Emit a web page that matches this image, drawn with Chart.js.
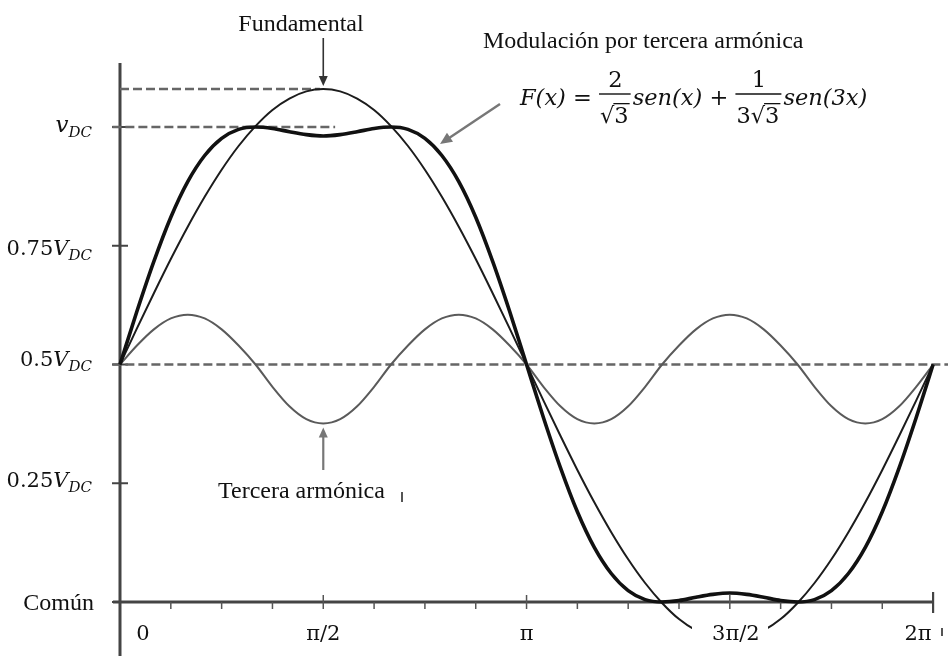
<!doctype html>
<html lang="es">
<head>
<meta charset="utf-8">
<title>Modulación por tercera armónica</title>
<script src="https://cdn.jsdelivr.net/npm/chart.js"></script>
<style>
  html, body { margin: 0; padding: 0; background: #fff; }
  #wrap { width: 948px; height: 656px; position: relative; }
</style>
</head>
<body>
<div id="wrap"><canvas id="chart"></canvas></div>
<script>
// x runs in steps of pi/24 : 0 .. 48  ->  0 .. 2pi
const xSteps = [0,1,2,3,4,5,6,7,8,9,10,11,12,13,14,15,16,17,18,19,20,21,22,23,24,
                25,26,27,28,29,30,31,32,33,34,35,36,37,38,39,40,41,42,43,44,45,46,47,48];

// values in units of V_DC
const modulated = [0.5,0.612,0.717,0.810,0.885,0.940,0.976,0.995,1.000,0.997,0.990,0.984,0.981,
                   0.984,0.990,0.997,1.000,0.995,0.976,0.940,0.885,0.810,0.717,0.612,0.5,
                   0.388,0.283,0.190,0.115,0.060,0.024,0.005,0.000,0.003,0.010,0.016,0.019,
                   0.016,0.010,0.003,0.000,0.005,0.024,0.060,0.115,0.190,0.283,0.388,0.5];
const fundamental = [0.5,0.576,0.650,0.722,0.790,0.853,0.910,0.960,1.002,1.036,1.060,1.075,1.080,
                     1.075,1.060,1.036,1.002,0.960,0.910,0.853,0.790,0.722,0.650,0.576,0.5,
                     0.424,0.350,0.278,0.210,0.147,0.090,0.040,-0.002,-0.036,-0.060,-0.075,-0.080,
                     -0.075,-0.060,-0.036,-0.002,0.040,0.090,0.147,0.210,0.278,0.350,0.424,0.5];
const thirdHarmonic = [0.5,0.540,0.574,0.597,0.605,0.597,0.574,0.540,0.5,0.453,0.412,0.385,0.376,
                       0.385,0.412,0.453,0.5,0.540,0.574,0.597,0.605,0.597,0.574,0.540,0.5,
                       0.453,0.412,0.385,0.376,0.385,0.412,0.453,0.5,0.540,0.574,0.597,0.605,
                       0.597,0.574,0.540,0.5,0.453,0.412,0.385,0.376,0.385,0.412,0.453,0.5];

const fundPeak = 1.08;

// dashed reference levels: [xFrom, xTo, level]
const peakLine = [[0, 11.8], fundPeak];
const vdcLine = [[-0.45, 12.7], 1.0];
const midLine = [[-0.45, 49], 0.5];

const yTickValues = [0, 0.25, 0.5, 0.75, 1.0];
const yTickLabels = ['Común', '0.25V_DC', '0.5V_DC', '0.75V_DC', 'v_DC'];
const yLabelNudge = [8, 4, 1, 9, 5];

const xTickValues = [0, 12, 24, 36, 48];
const xTickLabels = ['0', 'π/2', 'π', '3π/2', '2π'];
const xLabelNudge = [23, 0, 0, 6, -15];
const minorStep = 3;

const serif = '"Liberation Serif", "Times New Roman", serif';
const math = '"DejaVu Serif", serif';

function pts(ys) { return xSteps.map((x, i) => ({ x: x, y: ys[i] })); }
function level(l) { return [{ x: l[0][0], y: l[1] }, { x: l[0][1], y: l[1] }]; }

function arrow(ctx, x1, y1, x2, y2, color, w, head) {
  const a = Math.atan2(y2 - y1, x2 - x1);
  ctx.save();
  ctx.strokeStyle = color; ctx.fillStyle = color; ctx.lineWidth = w;
  ctx.beginPath();
  ctx.moveTo(x1, y1);
  ctx.lineTo(x2 - Math.cos(a) * head * 0.8, y2 - Math.sin(a) * head * 0.8);
  ctx.stroke();
  ctx.beginPath();
  ctx.moveTo(x2, y2);
  ctx.lineTo(x2 - head * Math.cos(a) + head * 0.45 * Math.sin(a), y2 - head * Math.sin(a) - head * 0.45 * Math.cos(a));
  ctx.lineTo(x2 - head * Math.cos(a) - head * 0.45 * Math.sin(a), y2 - head * Math.sin(a) + head * 0.45 * Math.cos(a));
  ctx.closePath();
  ctx.fill();
  ctx.restore();
}

// label like "0.75V_DC": number upright, variable italic, subscript italic
function yLabel(ctx, s, right, base) {
  if (s.indexOf('_') < 0) {
    ctx.font = '24px ' + serif;
    ctx.textAlign = 'right';
    ctx.fillText(s, right + 2, base);
    return;
  }
  const main = s.split('_')[0], sub = s.split('_')[1];
  const num = main.match(/^[\d.]*/)[0];
  const v = main.slice(num.length);
  const parts = [
    { t: num, f: '21px ' + math, dy: 0 },
    { t: v, f: 'italic ' + (num ? 21 : 23) + 'px ' + math, dy: 0 },
    { t: sub, f: 'italic 15px ' + math, dy: 5 }
  ];
  let w = 0;
  parts.forEach(p => { ctx.font = p.f; p.w = ctx.measureText(p.t).width; w += p.w; });
  let x = right - w;
  ctx.textAlign = 'left';
  parts.forEach(p => { ctx.font = p.f; ctx.fillText(p.t, x, base + p.dy); x += p.w; });
}

function radical(ctx, pre, rad, x, base, size) {
  // draws pre + sqrt(rad), returns width
  ctx.font = size + 'px ' + math;
  const wp = ctx.measureText(pre).width;
  const ws = ctx.measureText('√').width;
  const wr = ctx.measureText(rad).width;
  ctx.fillText(pre, x, base);
  ctx.fillText('√', x + wp, base);
  ctx.fillText(rad, x + wp + ws, base);
  ctx.save();
  ctx.lineWidth = 1.3;
  ctx.beginPath();
  const top = base - size * 0.86;
  ctx.moveTo(x + wp + ws - 1, top);
  ctx.lineTo(x + wp + ws + wr + 1, top);
  ctx.stroke();
  ctx.restore();
  return wp + ws + wr;
}

function fraction(ctx, num, pre, rad, x, size) {
  ctx.font = size + 'px ' + math;
  const wd = ctx.measureText(pre + '√' + rad).width + 2;
  const wn = ctx.measureText(num).width;
  ctx.fillText(num, x + 1 + (wd - wn) / 2, 87);
  radical(ctx, pre, rad, x + 1, 123, size);
  ctx.save();
  ctx.lineWidth = 1.4;
  ctx.beginPath();
  ctx.moveTo(x, 94); ctx.lineTo(x + wd + 1, 94);
  ctx.stroke();
  ctx.restore();
  return wd + 3;
}

function formula(ctx, x0) {
  const size = 22.5;
  const base = 105;
  let x = x0;
  ctx.textAlign = 'left';
  ctx.fillStyle = '#111'; ctx.strokeStyle = '#111';
  const seg = (t, it) => {
    ctx.font = (it ? 'italic ' : '') + size + 'px ' + math;
    ctx.fillText(t, x, base);
    x += ctx.measureText(t).width;
  };
  seg('F(x)', true);
  seg(' = ', false);
  x += fraction(ctx, '2', '', '3', x, size);
  seg('sen(x)', true);
  seg(' + ', false);
  x += fraction(ctx, '1', '3', '3', x, size);
  seg('sen(3x)', true);
}

const decor = {
  id: 'decor',
  beforeDatasetsDraw(chart) {
    const ctx = chart.ctx, xs = chart.scales.x, ys = chart.scales.y;
    const x0 = xs.getPixelForValue(0), y0 = ys.getPixelForValue(0);
    const xEnd = xs.getPixelForValue(48);
    ctx.save();
    ctx.strokeStyle = '#444';
    ctx.lineWidth = 3;
    ctx.beginPath();
    ctx.moveTo(x0, 63); ctx.lineTo(x0, chart.height);
    ctx.moveTo(x0 - 7, y0); ctx.lineTo(xEnd, y0);
    ctx.stroke();
    // end tick at 2pi
    ctx.lineWidth = 2.2;
    ctx.beginPath();
    ctx.moveTo(xEnd, y0 - 10); ctx.lineTo(xEnd, y0 + 11);
    ctx.stroke();
    // x ticks
    ctx.lineWidth = 1.5;
    ctx.strokeStyle = '#555';
    for (let k = minorStep; k < 48; k += minorStep) {
      const px = xs.getPixelForValue(k);
      ctx.beginPath();
      if (k % 12 === 0) { ctx.moveTo(px, y0 - 7); ctx.lineTo(px, y0 + 7); }
      else { ctx.moveTo(px, y0); ctx.lineTo(px, y0 + 7); }
      ctx.stroke();
    }
    // y ticks
    ctx.lineWidth = 2;
    ctx.strokeStyle = '#444';
    yTickValues.forEach(v => {
      const py = ys.getPixelForValue(v);
      ctx.beginPath();
      ctx.moveTo(x0 - 8, py); ctx.lineTo(x0 + 8, py);
      ctx.stroke();
    });
    ctx.restore();
  },
  afterDatasetsDraw(chart) {
    const ctx = chart.ctx, xs = chart.scales.x, ys = chart.scales.y;
    ctx.save();
    // white box behind the 3pi/2 label
    ctx.fillStyle = '#fff';
    ctx.fillRect(692, 616, 76, 40);

    ctx.fillStyle = '#111';
    ctx.textBaseline = 'alphabetic';
    // y labels
    yTickValues.forEach((v, i) => {
      yLabel(ctx, yTickLabels[i], 92, ys.getPixelForValue(v) + yLabelNudge[i]);
    });
    // x labels
    ctx.font = '21px ' + math;
    ctx.textAlign = 'center';
    xTickValues.forEach((v, i) => {
      ctx.fillText(xTickLabels[i], xs.getPixelForValue(v) + xLabelNudge[i], 640);
    });

    // annotations
    ctx.font = '24px ' + serif;
    ctx.textAlign = 'center';
    ctx.fillText('Fundamental', 301, 31);
    arrow(ctx, xs.getPixelForValue(12), 38, xs.getPixelForValue(12), ys.getPixelForValue(fundPeak) - 3, '#333', 1.6, 10);

    ctx.textAlign = 'left';
    ctx.fillText('Modulación por tercera armónica', 483, 48);
    formula(ctx, 520);
    arrow(ctx, 500, 104, 440, 144, '#777', 2.4, 12);

    ctx.fillStyle = '#111';
    ctx.font = '24px ' + serif;
    ctx.textAlign = 'left';
    ctx.fillText('Tercera armónica', 218, 498);
    arrow(ctx, xs.getPixelForValue(12), 470, xs.getPixelForValue(12), ys.getPixelForValue(thirdHarmonic[12]) + 4, '#777', 2.2, 10);

    // small stray marks in the scan
    ctx.strokeStyle = '#555'; ctx.lineWidth = 2;
    ctx.beginPath();
    ctx.moveTo(402, 492); ctx.lineTo(402, 502);
    ctx.moveTo(942, 628); ctx.lineTo(942, 636);
    ctx.stroke();
    ctx.restore();
  }
};

const dashStyle = { borderColor: '#666', borderWidth: 2.5, borderDash: [9, 4], pointRadius: 0, fill: false, tension: 0 };

new Chart(document.getElementById('chart'), {
  type: 'line',
  data: {
    datasets: [
      { label: 'Modulación por tercera armónica', data: pts(modulated), borderColor: '#111', borderWidth: 3.6,
        pointRadius: 0, cubicInterpolationMode: 'monotone', fill: false },
      { label: 'Fundamental', data: pts(fundamental), borderColor: '#1c1c1c', borderWidth: 2,
        pointRadius: 0, cubicInterpolationMode: 'monotone', fill: false },
      { label: 'Tercera armónica', data: pts(thirdHarmonic), borderColor: '#5a5a5a', borderWidth: 2,
        pointRadius: 0, cubicInterpolationMode: 'monotone', fill: false },
      Object.assign({ label: 'pico', data: level(peakLine) }, dashStyle),
      Object.assign({ label: 'vdc', data: level(vdcLine) }, dashStyle),
      Object.assign({ label: 'mitad', data: level(midLine) }, dashStyle)
    ]
  },
  options: {
    responsive: true,
    maintainAspectRatio: false,
    animation: false,
    layout: { padding: 0 },
    plugins: { legend: { display: false }, tooltip: { enabled: false } },
    scales: {
      x: { type: 'linear', min: -7.084, max: 48.88, display: false },
      y: { type: 'linear', min: -0.1137, max: 1.2674, display: false }
    }
  },
  plugins: [decor]
});
</script>
</body>
</html>
